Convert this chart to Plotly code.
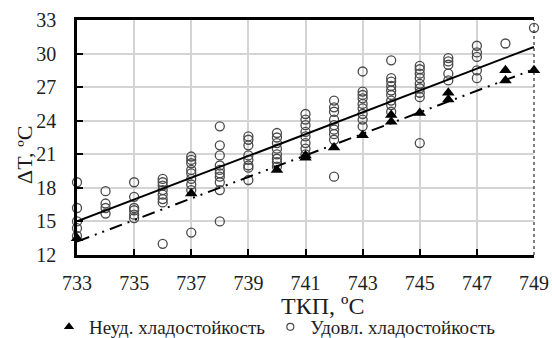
import plotly.graph_objects as go

# Неуд. хладостойкость (filled triangles)
neud_x = [733, 737, 740, 741, 741, 742, 743, 744, 744, 745, 746, 746, 748, 748, 749]
neud_y = [13.5, 17.5, 19.6, 20.7, 20.9, 21.6, 22.7, 23.9, 24.5, 24.7, 25.9, 26.5, 27.6, 28.5, 28.5]

# Удовл. хладостойкость (open circles), grouped by ТКП
udovl_groups = {
    733: [18.5, 16.2, 15.0, 14.4, 13.7],
    734: [17.7, 16.6, 16.2, 15.7],
    735: [18.5, 17.2, 16.2, 16.0, 15.6, 15.3],
    736: [18.8, 18.5, 18.2, 17.8, 17.4, 17.0, 16.7, 13.0],
    737: [20.8, 20.5, 20.2, 19.6, 19.3, 18.8, 18.3, 17.8, 14.0],
    738: [23.5, 21.8, 20.9, 20.0, 19.6, 19.3, 19.0, 18.5, 17.8, 15.0],
    739: [22.6, 22.3, 21.8, 20.9, 20.5, 20.0, 19.8, 18.7],
    740: [22.9, 22.5, 22.0, 21.5, 21.0, 20.6, 20.3, 19.9],
    741: [24.6, 24.1, 23.6, 23.0, 22.6, 22.0, 21.5, 21.0],
    742: [25.8, 25.2, 24.8, 24.1, 23.6, 23.2, 22.8, 22.3, 19.0],
    743: [28.4, 26.6, 26.3, 26.0, 25.5, 25.1, 24.6, 24.1, 23.5],
    744: [29.4, 27.8, 27.5, 27.1, 26.7, 26.3, 25.8, 25.4, 24.8],
    745: [28.9, 28.6, 28.2, 27.8, 27.3, 26.9, 26.5, 26.1, 22.0],
    746: [29.6, 29.3, 29.0, 28.2, 27.6],
    747: [30.7, 30.1, 29.7, 28.5, 27.8],
    748: [30.9],
    749: [32.3],
}
udovl_x = [k for k, vals in udovl_groups.items() for _ in vals]
udovl_y = [v for vals in udovl_groups.values() for v in vals]

# Linear trend lines (values at ТКП = 733 and 749)
trend_x = [733, 749]
trend_udovl_y = [15.0, 30.6]
trend_neud_y = [13.2, 28.6]

x_ticks = [733, 735, 737, 739, 741, 743, 745, 747, 749]
y_ticks = [12, 15, 18, 21, 24, 27, 30, 33]

label_neud = "Неуд. хладостойкость"
label_udovl = "Удовл. хладостойкость"
x_title = "ТКП, ºC"
y_title = "ΔT, ºC"

FONT = "Liberation Serif"
TXT = "#1e1e1e"

fig = go.Figure()

fig.add_trace(go.Scatter(
    x=udovl_x, y=udovl_y, mode="markers", showlegend=False, cliponaxis=False,
    marker=dict(symbol="circle-open", size=9, color="#4a4a4a", line=dict(width=1.3, color="#4a4a4a")),
))
fig.add_trace(go.Scatter(
    x=neud_x, y=neud_y, mode="markers", showlegend=False, cliponaxis=False,
    marker=dict(symbol="triangle-up", size=11, color="black"),
))
fig.add_trace(go.Scatter(
    x=trend_x, y=trend_udovl_y, mode="lines", showlegend=False,
    line=dict(color="black", width=2),
))
fig.add_trace(go.Scatter(
    x=trend_x, y=trend_neud_y, mode="lines", showlegend=False,
    line=dict(color="black", width=2, dash="13px,6px,2px,6px,2px,6px"),
))

# legend entries
fig.add_trace(go.Scatter(
    x=[None], y=[None], mode="markers", name=label_neud,
    marker=dict(symbol="triangle-up", size=9, color="black"),
))
fig.add_trace(go.Scatter(
    x=[None], y=[None], mode="markers", name=label_udovl,
    marker=dict(symbol="circle-open", size=7, color="#4a4a4a", line=dict(width=1.2, color="#4a4a4a")),
))

fig.update_layout(
    width=552, height=338,
    margin=dict(l=77, r=18, t=20, b=83, autoexpand=False),
    plot_bgcolor="white", paper_bgcolor="white",
    font=dict(family=FONT, size=20, color=TXT),
    showlegend=True,
    legend=dict(
        orientation="h", xref="container", yref="container",
        x=275 / 552, xanchor="center", y=(338 - 327) / 338, yanchor="middle",
        font=dict(family=FONT, size=19, color=TXT),
        itemwidth=30, bgcolor="rgba(0,0,0,0)", tracegroupgap=0,
    ),
    xaxis=dict(
        range=[733, 749], tickvals=x_ticks, ticktext=[str(v) for v in x_ticks],
        showgrid=True, gridcolor="#d4d4d4", gridwidth=1.5,
        showline=True, linecolor="black", linewidth=2.5, mirror=True,
        ticks="inside", ticklen=6, tickwidth=2, tickcolor="black",
        ticklabelstandoff=8, zeroline=False, automargin=False,
        tickfont=dict(family=FONT, size=20, color=TXT),
    ),
    yaxis=dict(
        range=[12, 33], tickvals=y_ticks, ticktext=[str(v) for v in y_ticks],
        showgrid=True, gridcolor="#d4d4d4", gridwidth=1.5,
        showline=True, linecolor="black", linewidth=2.5,
        ticks="inside", ticklen=6, tickwidth=2, tickcolor="black",
        ticklabelstandoff=14, zeroline=False, automargin=False,
        tickfont=dict(family=FONT, size=20, color=TXT),
    ),
    annotations=[
        dict(text=x_title, xref="paper", yref="paper", x=(322 - 77) / 457, y=-(306 - 255) / 235,
             xanchor="center", yanchor="middle", showarrow=False,
             font=dict(family=FONT, size=24, color=TXT)),
        dict(text=y_title, xref="paper", yref="paper", x=-(77 - 24) / 457, y=(255 - 155) / 235,
             xanchor="center", yanchor="middle", showarrow=False, textangle=-90,
             font=dict(family=FONT, size=22, color=TXT)),
    ],
    shapes=[
        dict(type="line", xref="paper", yref="paper", x0=1, x1=1, y0=0, y1=1,
             line=dict(color="black", width=1, dash="dot")),
    ],
)

fig.write_html("out.html")
